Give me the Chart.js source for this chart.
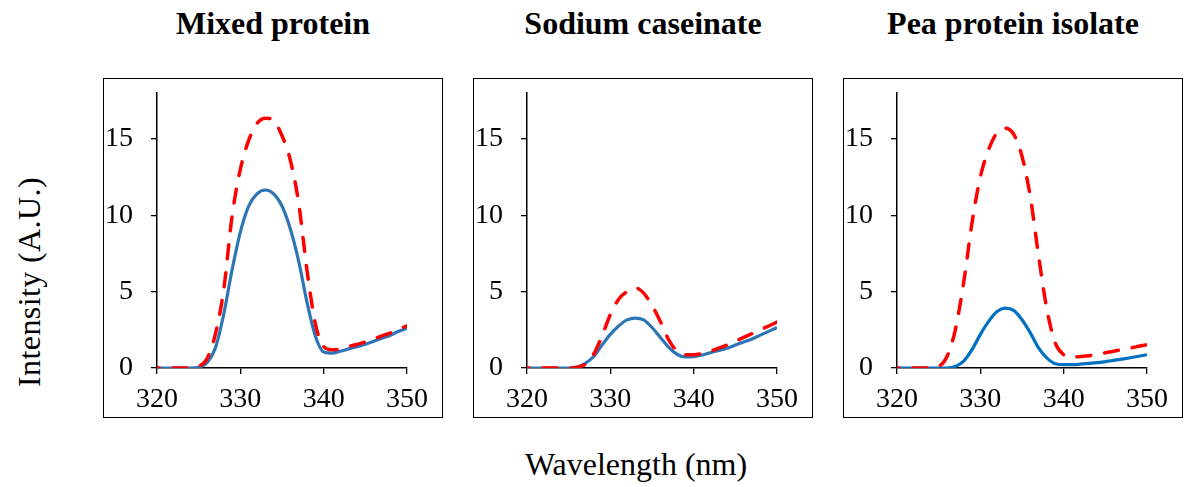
<!DOCTYPE html>
<html>
<head>
<meta charset="utf-8">
<script src="https://cdn.jsdelivr.net/npm/chart.js@4.4.1/dist/chart.umd.min.js"></script>
<style>
  html, body { margin:0; padding:0; background:#fff; }
  body { width:1188px; height:487px; position:relative; overflow:hidden; font-family:"Liberation Serif","Times New Roman",serif; color:#000; }
  .panel { position:absolute; top:78px; width:340px; height:340px; }
  .panel canvas { position:absolute; left:0; top:0; }
  .frame { position:absolute; left:0; top:0; width:340px; height:340px; box-sizing:border-box; border:1px solid #000; pointer-events:none; }
  .ptitle { position:absolute; top:7px; width:340px; text-align:center; font-weight:bold; font-size:32px; line-height:32px; white-space:nowrap; }
  .xtitle { position:absolute; top:448px; left:436px; width:400px; text-align:center; font-size:32px; line-height:32px; white-space:nowrap; }
  .ytitle { position:absolute; left:29px; top:282px; font-size:32px; line-height:32px; letter-spacing:0.4px; white-space:nowrap; transform:translate(-50%,-50%) rotate(-90deg); }
</style>
</head>
<body>
<script>
// ---- data ----
const wavelengths = [320,321,322,323,324,325,326,327,328,329,330,331,332,333,334,335,336,337,338,339,340,341,342,343,344,345,346,347,348,349,350];
const panelTitles = ["Mixed protein", "Sodium caseinate", "Pea protein isolate"];
const xTicks = [320, 330, 340, 350];
const yTicks = [0, 5, 10, 15];
const xTitle = "Wavelength (nm)";
const yTitle = "Intensity (A.U.)";

const mixedSolid  = [0,0,0,0,0,0.05,0.35,1.3,3.5,6.4,8.9,10.6,11.4,11.65,11.4,10.6,9.1,7.0,4.3,2.1,1.05,0.98,1.1,1.25,1.4,1.55,1.75,1.95,2.15,2.4,2.6];
const mixedDashed = [0,0,0,0,0,0.1,0.6,2.2,5.1,9.9,13.0,14.9,16.0,16.35,16.2,15.2,13.6,10.8,6.4,2.9,1.4,1.2,1.25,1.4,1.55,1.7,1.9,2.1,2.3,2.55,2.75];

const caseinSolid  = [0,0,0,0,0,0,0.05,0.3,0.75,1.5,2.2,2.75,3.15,3.27,3.15,2.65,2.0,1.35,0.9,0.72,0.74,0.85,1.0,1.15,1.3,1.5,1.7,1.9,2.15,2.4,2.65];
const caseinDashed = [0,0,0,0,0,0,0.05,0.25,0.9,2.1,3.5,4.5,5.0,5.25,4.9,4.1,3.05,1.85,1.1,0.87,0.87,0.95,1.1,1.3,1.5,1.75,2.0,2.25,2.5,2.75,3.0];

const peaSolid  = [0,0,0,0,0,0,0,0.1,0.45,1.2,2.2,3.05,3.7,3.92,3.77,3.16,2.3,1.3,0.65,0.28,0.22,0.22,0.25,0.3,0.35,0.42,0.5,0.58,0.67,0.77,0.87];
const peaDashed = [0,0,0,0,0,0.1,0.75,2.5,5.6,9.5,12.5,14.3,15.4,15.7,15.3,13.85,11.2,7.3,3.8,1.63,0.87,0.72,0.75,0.8,0.9,1.0,1.1,1.2,1.3,1.42,1.53];

const solidSeries  = [mixedSolid, caseinSolid, peaSolid];
const dashedSeries = [mixedDashed, caseinDashed, peaDashed];
const solidColors  = ["#2E75B6", "#2E75B6", "#0070C0"];
const panelLefts   = [103, 473, 843];

// ---- build ----
const FONT = "'Liberation Serif','Times New Roman',serif";
function pts(arr){ return wavelengths.map((x,i)=>({x:x, y:arr[i]})); }

panelTitles.forEach((title, p) => {
  const t = document.createElement('div');
  t.className = 'ptitle';
  t.style.left = panelLefts[p] + 'px';
  t.textContent = title;
  document.body.appendChild(t);

  const wrap = document.createElement('div');
  wrap.className = 'panel';
  wrap.style.left = panelLefts[p] + 'px';
  const cv = document.createElement('canvas');
  cv.width = 340; cv.height = 340;
  cv.style.width = '340px'; cv.style.height = '340px';
  wrap.appendChild(cv);
  const fr = document.createElement('div');
  fr.className = 'frame';
  wrap.appendChild(fr);
  document.body.appendChild(wrap);

  new Chart(cv.getContext('2d'), {
    type: 'line',
    data: {
      datasets: [
        { data: pts(dashedSeries[p]), borderColor: '#FF0000', borderWidth: 3.5, borderDash: [14, 14], borderDashOffset: 12,
          borderCapStyle: 'round', pointRadius: 0, fill: false, cubicInterpolationMode: 'monotone' },
        { data: pts(solidSeries[p]), borderColor: solidColors[p], borderWidth: 3.2, pointRadius: 0, fill: false,
          cubicInterpolationMode: 'monotone' }
      ]
    },
    options: {
      responsive: false,
      animation: false,
      devicePixelRatio: 1,
      layout: { padding: { top: 15, right: 36, left: 0, bottom: 0 } },
      plugins: { legend: { display: false }, tooltip: { enabled: false } },
      scales: {
        x: {
          type: 'linear', min: xTicks[0], max: xTicks[xTicks.length-1],
          afterBuildTicks: s => { s.ticks = xTicks.map(v => ({ value: v })); },
          afterFit: s => { s.height = 50; s.paddingLeft = 0; s.paddingRight = 0; },
          ticks: { color: '#000', font: { family: FONT, size: 28 }, padding: 9, maxRotation: 0 },
          grid: { display: true, drawOnChartArea: false, drawTicks: true, tickLength: 6, color: '#000', lineWidth: 1.3 },
          border: { display: true, color: '#000', width: 1.5 }
        },
        y: {
          type: 'linear', min: 0, max: 18,
          afterBuildTicks: s => { s.ticks = yTicks.map(v => ({ value: v })); },
          afterFit: s => { s.width = 54; s.paddingTop = 0; s.paddingBottom = 0; },
          ticks: { color: '#000', font: { family: FONT, size: 28 }, padding: 18 },
          grid: { display: true, drawOnChartArea: false, drawTicks: true, tickLength: 6, color: '#000', lineWidth: 1.3 },
          border: { display: true, color: '#000', width: 1.5 }
        }
      }
    }
  });
});

const xt = document.createElement('div'); xt.className = 'xtitle'; xt.textContent = xTitle; document.body.appendChild(xt);
const yt = document.createElement('div'); yt.className = 'ytitle'; yt.textContent = yTitle; document.body.appendChild(yt);
</script>
</body>
</html>
